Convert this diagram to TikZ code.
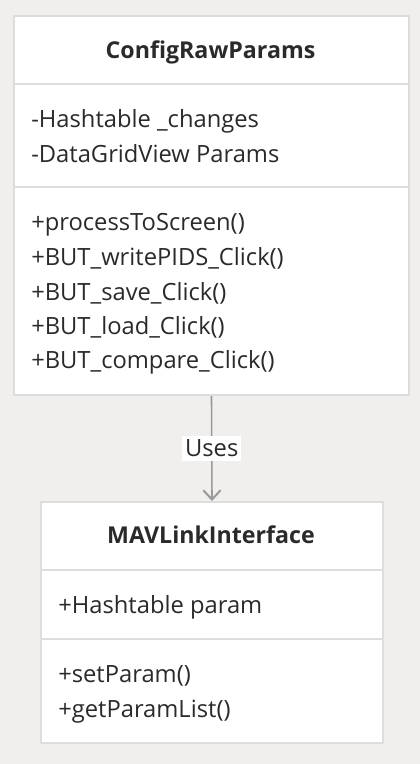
\documentclass[tikz,border=0pt]{standalone}
\usepackage{fontspec}
\setmainfont{Open Sans}
\usetikzlibrary{arrows.meta}
\definecolor{bgc}{HTML}{F0EFEE}
\definecolor{bordc}{HTML}{DDDDDD}
\definecolor{txtc}{HTML}{2A2A2A}
\definecolor{arrc}{HTML}{999999}
\tikzset{
  classbox/.style={draw=bordc, line width=1.5pt, fill=white, anchor=north west, inner sep=0pt},
  divider/.style={draw=bordc, line width=1.5pt},
  ctitle/.style={text=txtc, font=\fontsize{17.4}{20}\selectfont\bfseries, inner sep=0pt, anchor=base},
  member/.style={text=txtc, font=\fontsize{17.8}{20}\selectfont, anchor=base west, inner sep=0pt},
  conn/.style={draw=arrc, line width=1.2pt, -{Straight Barb[length=7pt,width=13pt,line width=1.5pt]}},
  clabel/.style={fill=white, text=txtc, font=\fontsize{17.8}{20}\selectfont, inner xsep=2pt, inner ysep=3pt}
}
\begin{document}
\begin{tikzpicture}[x=0.75pt,y=-0.75pt]
\fill[bgc] (0,0) rectangle (420,764);
\useasboundingbox (0,0) rectangle (420,764);
% ConfigRawParams
\node[classbox, minimum width=296.25pt, minimum height=284.25pt] (A) at (13,15) {};
\draw[divider] (13,84) -- (408,84);
\draw[divider] (13,187) -- (408,187);
\node[ctitle] (At) at (210.5,58) {ConfigRawParams};
\node[member] (A1) at (31,127) {-Hashtable \_changes};
\node[member] (A2) at (31,162) {-DataGridView Params};
\node[member] (A3) at (31,230) {+processToScreen()};
\node[member] (A4) at (31,265) {+BUT\_writePIDS\_Click()};
\node[member] (A5) at (31,300) {+BUT\_save\_Click()};
\node[member] (A6) at (31,334) {+BUT\_load\_Click()};
\node[member] (A7) at (31,368) {+BUT\_compare\_Click()};
% MAVLinkInterface
\node[classbox, minimum width=256.5pt, minimum height=180.75pt] (B) at (40,501) {};
\draw[divider] (40,570) -- (382,570);
\draw[divider] (40,639) -- (382,639);
\node[ctitle] (Bt) at (211,543) {MAVLinkInterface};
\node[member] (B1) at (58,613) {+Hashtable param};
\node[member] (B2) at (58,682) {+setParam()};
\node[member] (B3) at (58,717) {+getParamList()};
% connector
\draw[conn] (A.south) -- (B.north) node[clabel, midway] (L) {Uses};
\end{tikzpicture}
\end{document}
